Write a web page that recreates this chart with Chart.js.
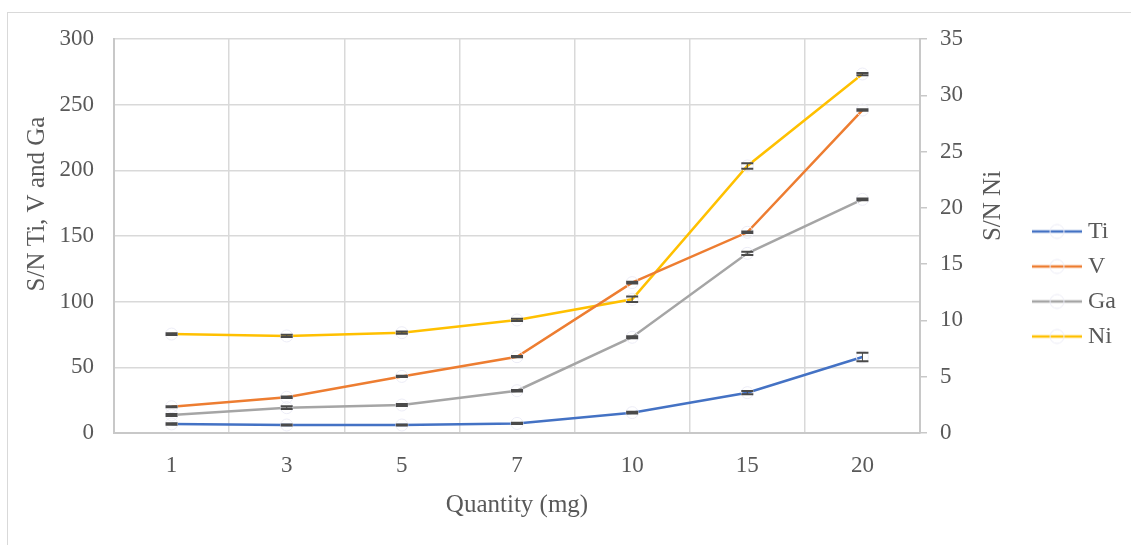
<!DOCTYPE html>
<html>
<head>
<meta charset="utf-8">
<script src="https://cdn.jsdelivr.net/npm/chart.js@4.4.0/dist/chart.umd.min.js"></script>
<style>
    html, body { margin: 0; padding: 0; background: #fff; overflow: hidden; }
    #frame { position: absolute; left: 7px; top: 12px; width: 1300px; height: 700px; border: 1px solid #d9d9d9; }
    #wrap { position: absolute; left: 0; top: 0; width: 1131px; height: 545px; }
</style>
</head>
<body>
<div id="frame"></div>
<div id="wrap"><canvas id="snChart" width="1131" height="545"></canvas></div>
<script>
// 數據
const quantities = ['1', '3', '5', '7', '10', '15', '20'];
const tiValues = [6.9, 6.1, 6.1, 7.3, 15.5, 30.7, 57.9];
const vValues = [20.0, 27.2, 43.1, 58.1, 114.5, 152.8, 245.9];
const gaValues = [13.7, 19.3, 21.3, 32.2, 72.9, 136.8, 177.9];
const niValues = [8.79, 8.62, 8.91, 10.04, 11.88, 23.72, 31.89];

// 誤差值
const tiErrors = [0.6, 0.4, 0.4, 0.5, 0.6, 1.2, 3.2];
const vErrors = [0.4, 0.6, 0.5, 0.5, 0.7, 0.6, 0.6];
const gaErrors = [0.8, 1.0, 0.8, 0.6, 0.8, 1.2, 0.6];
const niErrors = [0.08, 0.1, 0.1, 0.1, 0.25, 0.25, 0.1];

const leftTicks = [0, 50, 100, 150, 200, 250, 300];
const rightTicks = [0, 5, 10, 15, 20, 25, 30, 35];

const textColor = '#595959';
const gridColor = '#d9d9d9';
const axisColor = '#c8c8c8';
const serif = 'Liberation Serif';

// 圖例用的小圖（線條加圓圈）
function legendIcon(color) {
    const c = document.createElement('canvas');
    c.width = 50;
    c.height = 20;
    const g = c.getContext('2d');
    g.strokeStyle = color;
    g.lineWidth = 2.5;
    g.beginPath();
    g.moveTo(0, 10);
    g.lineTo(50, 10);
    g.stroke();
    g.strokeStyle = '#ececf6';
    g.lineWidth = 1;
    g.beginPath();
    g.arc(25, 10, 7, 0, Math.PI * 2);
    g.stroke();
    return c;
}

function series(label, data, errors, color, axis) {
    return {
        label: label,
        data: data,
        errors: errors,
        borderColor: color,
        backgroundColor: color,
        borderWidth: 2.5,
        tension: 0,
        pointRadius: 6,
        pointBorderWidth: 1,
        pointBorderColor: '#ececf6',
        pointBackgroundColor: 'rgba(255,255,255,0)',
        yAxisID: axis,
        pointStyle: 'circle',
        legendIcon: legendIcon(color)
    };
}

// 誤差線
const errorBars = {
    id: 'errorBars',
    afterDatasetsDraw(chart) {
        const ctx = chart.ctx;
        ctx.save();
        ctx.strokeStyle = '#4a4a4a';
        chart.data.datasets.forEach((ds, i) => {
            const meta = chart.getDatasetMeta(i);
            const scale = chart.scales[ds.yAxisID];
            ds.data.forEach((v, j) => {
                const x = meta.data[j].x;
                const top = scale.getPixelForValue(v + ds.errors[j]);
                const bot = scale.getPixelForValue(v - ds.errors[j]);
                ctx.lineWidth = 2;
                ctx.beginPath();
                ctx.moveTo(x - 6, top); ctx.lineTo(x + 6, top);
                ctx.moveTo(x - 6, bot); ctx.lineTo(x + 6, bot);
                ctx.stroke();
                ctx.lineWidth = 1;
                ctx.beginPath();
                ctx.moveTo(x, top); ctx.lineTo(x, bot);
                ctx.stroke();
            });
        });
        ctx.restore();
    }
};

// 縱軸標題（由下往上）
const sideTitles = {
    id: 'sideTitles',
    afterDraw(chart, args, opts) {
        const ctx = chart.ctx;
        ctx.save();
        ctx.fillStyle = textColor;
        ctx.font = '25px "' + serif + '"';
        ctx.textAlign = 'center';
        ctx.textBaseline = 'middle';
        opts.items.forEach(t => {
            ctx.save();
            ctx.translate(t.x, t.y);
            ctx.rotate(-Math.PI / 2);
            ctx.fillText(t.text, 0, 0);
            ctx.restore();
        });
        ctx.restore();
    }
};

function initChart() {
    const ctx = document.getElementById('snChart').getContext('2d');
    new Chart(ctx, {
        type: 'line',
        data: {
            labels: quantities,
            datasets: [
                series('Ti', tiValues, tiErrors, '#4472c4', 'y'),
                series('V', vValues, vErrors, '#ed7d31', 'y'),
                series('Ga', gaValues, gaErrors, '#a5a5a5', 'y'),
                series('Ni', niValues, niErrors, '#ffc000', 'y1')
            ]
        },
        plugins: [errorBars, sideTitles],
        options: {
            responsive: false,
            animation: false,
            layout: { padding: { top: 23, right: 5, left: 0, bottom: 0 } },
            plugins: {
                title: {
                    display: true,
                    text: '',
                    font: { size: 10, lineHeight: 1 },
                    padding: { top: 6, bottom: 0 }
                },
                legend: {
                    position: 'right',
                    labels: {
                        usePointStyle: true,
                        pointStyleWidth: 38,
                        padding: 11,
                        color: textColor,
                        font: { family: serif, size: 24 },
                        generateLabels(chart) {
                            return chart.data.datasets.map((ds, i) => ({
                                text: ds.label,
                                pointStyle: ds.legendIcon,
                                fontColor: textColor,
                                strokeStyle: ds.borderColor,
                                fillStyle: ds.borderColor,
                                lineWidth: 0,
                                datasetIndex: i
                            }));
                        }
                    }
                },
                tooltip: { enabled: false },
                sideTitles: {
                    items: [
                        { text: 'S/N Ti, V and Ga', x: 37, y: 204 },
                        { text: 'S/N Ni', x: 993, y: 206 }
                    ]
                }
            },
            scales: {
                x: {
                    offset: true,
                    grid: { offset: true, color: gridColor, lineWidth: 1.5, drawTicks: false },
                    border: { color: axisColor, width: 2 },
                    ticks: { color: textColor, font: { family: serif, size: 23 }, padding: 19 },
                    title: {
                        display: true,
                        text: 'Quantity (mg)',
                        color: textColor,
                        font: { family: serif, size: 25 },
                        padding: { top: 0, bottom: 25 }
                    },
                    afterFit(scale) { scale.height = 112; }
                },
                y: {
                    position: 'left',
                    min: 0,
                    max: 300,
                    afterBuildTicks(scale) { scale.ticks = leftTicks.map(v => ({ value: v })); },
                    grid: { color: gridColor, lineWidth: 1.5, drawTicks: false },
                    border: { color: axisColor, width: 2 },
                    ticks: { color: textColor, font: { family: serif, size: 23 }, padding: 20 },
                    afterFit(scale) { scale.width = 114; }
                },
                y1: {
                    position: 'right',
                    min: 0,
                    max: 35,
                    afterBuildTicks(scale) { scale.ticks = rightTicks.map(v => ({ value: v })); },
                    grid: { drawOnChartArea: false, color: axisColor, tickLength: 7, lineWidth: 1.5 },
                    border: { color: axisColor, width: 2 },
                    ticks: { color: textColor, font: { family: serif, size: 23 }, padding: 13 },
                    afterFit(scale) { scale.width = 107; }
                }
            }
        }
    });
}

window.addEventListener('load', initChart);
</script>
</body>
</html>
